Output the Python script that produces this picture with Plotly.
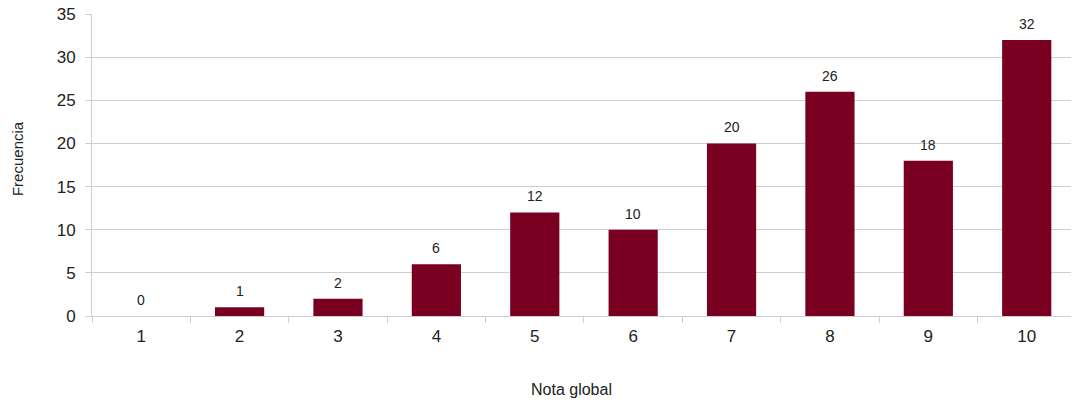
import plotly.graph_objects as go

# Frequency of overall grades
notas = ["1", "2", "3", "4", "5", "6", "7", "8", "9", "10"]
frecuencias = [0, 1, 2, 6, 12, 10, 20, 26, 18, 32]

BAR_COLOR = "#7A0021"
GRID_COLOR = "#CFCFCF"
TEXT_COLOR = "#222222"
FONT = "Liberation Sans, Arial, sans-serif"

fig = go.Figure()
fig.add_trace(go.Bar(
    x=notas,
    y=frecuencias,
    marker=dict(color=BAR_COLOR, line=dict(width=0)),
    width=0.5,
    hoverinfo="x+y",
))

# value labels above each bar (positioned by category index)
for i, f in enumerate(frecuencias):
    fig.add_annotation(
        x=i, y=f, text=str(f), showarrow=False,
        yanchor="bottom", yshift=6,
        font=dict(family=FONT, size=14, color=TEXT_COLOR),
    )

# axis titles
fig.add_annotation(
    xref="paper", yref="paper", x=0.49, y=-0.245,
    xanchor="center", yanchor="middle", showarrow=False,
    text="Nota global",
    font=dict(size=16, family=FONT, color=TEXT_COLOR),
)
fig.add_annotation(
    xref="paper", yref="paper", x=-0.0755, y=0.52,
    xanchor="center", yanchor="middle", showarrow=False,
    text="Frecuencia", textangle=-90,
    font=dict(size=15, family=FONT, color=TEXT_COLOR),
)

fig.update_layout(
    width=1072, height=410,
    margin=dict(l=92, r=1, t=14, b=94),
    paper_bgcolor="white", plot_bgcolor="white",
    showlegend=False,
    font=dict(family=FONT, color=TEXT_COLOR),
    xaxis=dict(
        type="category",
        range=[-0.5, 9.45],
        tickson="boundaries",
        ticks="outside", ticklen=6, tickcolor=GRID_COLOR,
        showline=True, linecolor=GRID_COLOR, linewidth=1,
        showgrid=False,
        ticklabelstandoff=5,
        tickfont=dict(size=17, family=FONT, color=TEXT_COLOR),
    ),
    yaxis=dict(
        range=[0, 35], dtick=5,
        ticks="outside", ticklen=6, tickcolor=GRID_COLOR,
        showline=True, linecolor=GRID_COLOR, linewidth=1,
        showgrid=True, gridcolor=GRID_COLOR, gridwidth=1,
        zeroline=False,
        ticklabelstandoff=6,
        tickfont=dict(size=17, family=FONT, color=TEXT_COLOR),
    ),
)

fig.write_html("out.html")
